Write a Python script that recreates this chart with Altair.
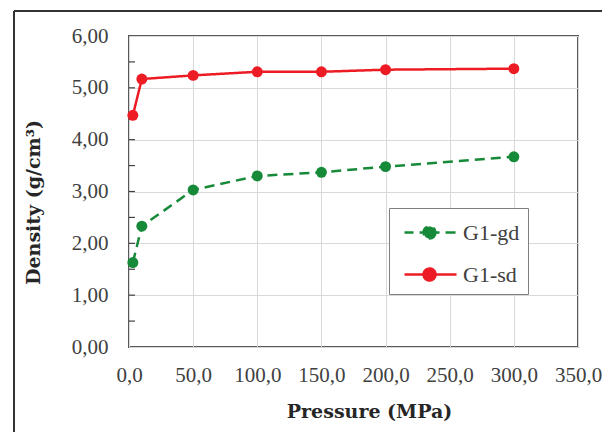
import altair as alt
import pandas as pd

# ---- data ----
pressure = [3, 10, 50, 100, 150, 200, 300]
gd_density = [1.63, 2.33, 3.03, 3.30, 3.37, 3.48, 3.67]
sd_density = [4.47, 5.17, 5.24, 5.31, 5.31, 5.35, 5.37]

series_names = ["G1-gd", "G1-sd"]
series_colors = ["#178a3a", "#ed1c24"]
series_dash = [[10, 6], [1, 0]]

x_ticks = [0, 50, 100, 150, 200, 250, 300, 350]
y_ticks = [0, 1, 2, 3, 4, 5, 6]
y_minor = [0.5, 1, 1.5, 2, 2.5, 3, 3.5, 4, 4.5, 5, 5.5]

rows = []
for p, d in zip(pressure, gd_density):
    rows.append({"p": p, "d": d, "series": "G1-gd"})
for p, d in zip(pressure, sd_density):
    rows.append({"p": p, "d": d, "series": "G1-sd"})
df = pd.DataFrame(rows)
minor_df = pd.DataFrame({"v": y_minor})

FONT = "Liberation Serif"
TFONT = "DejaVu Serif"
W, H = 449, 311

x_enc = alt.X(
    "p:Q",
    scale=alt.Scale(domain=[0, 350], nice=False, zero=False),
    axis=alt.Axis(
        values=x_ticks, grid=True, ticks=False, tickSize=0, domain=False,
        labelExpr="replace(format(datum.value, '.1f'), '.', ',')",
        labelFont=FONT, labelFontSize=21, labelColor="#404040",
        labelPadding=28, labelBaseline="middle", labelFlush=False,
        title="Pressure (MPa)", titleFont=TFONT, titleFontSize=19,
        titleFontWeight="bold", titleColor="#262626",
        titleX=240, titleY=64, titleBaseline="middle", titleAlign="center",
    ),
)
y_enc = alt.Y(
    "d:Q",
    scale=alt.Scale(domain=[0, 6], nice=False, zero=False),
    axis=alt.Axis(
        values=y_ticks, grid=True, ticks=False, tickSize=0, domain=False,
        labelExpr="replace(format(datum.value, '.2f'), '.', ',')",
        labelFont=FONT, labelFontSize=21, labelColor="#404040",
        labelPadding=21, labelFlush=False,
        title="Density (g/cm³)", titleFont=TFONT, titleFontSize=19,
        titleFontWeight="bold", titleColor="#262626",
        titleX=-96, titleY=166, titleAngle=-90, titleBaseline="middle",
        titleAlign="center",
    ),
)

color_scale = alt.Scale(domain=series_names, range=series_colors)
dash_scale = alt.Scale(domain=series_names, range=series_dash)

legend_symbol = (
    "M1.07,0L-0.6,0M1.07,0L2.87,0"
    "M1.47,0A0.4,0.4 0 1,1 0.67,0A0.4,0.4 0 1,1 1.47,0Z"
)
leg = alt.Legend(
    title=None, orient="none", legendX=260, legendY=172,
    padding=8, strokeColor="#7f7f7f", fillColor="white",
    symbolType=legend_symbol, symbolSize=900, symbolStrokeWidth=2.5,
    labelOffset=33, rowPadding=14, labelFont=FONT, labelFontSize=22,
    labelColor="#404040",
)

lines = alt.Chart(df).mark_line(strokeWidth=2.5).encode(
    x=x_enc, y=y_enc,
    color=alt.Color("series:N", scale=color_scale, legend=leg),
    strokeDash=alt.StrokeDash("series:N", scale=dash_scale, legend=leg),
)

points = alt.Chart(df).mark_point(filled=True, size=120, opacity=1).encode(
    x="p:Q", y="d:Q",
    color=alt.Color("series:N", scale=color_scale, legend=leg),
)

minor = alt.Chart(minor_df).mark_rule(color="#404040", strokeWidth=1.2).encode(
    y=alt.Y("v:Q"), x=alt.value(0), x2=alt.value(6),
)

frame_top = alt.Chart(minor_df).mark_rule(color="#333333", strokeWidth=1.8).encode(
    x=alt.value(-115), x2=alt.value(480), y=alt.value(-25),
)
frame_left = alt.Chart(minor_df).mark_rule(color="#333333", strokeWidth=1.8).encode(
    x=alt.value(-115), y=alt.value(-25), y2=alt.value(400),
)

chart = alt.layer(frame_top, frame_left, lines, minor, points).properties(
    width=W, height=H,
    padding={"left": 129, "top": 36, "right": 24, "bottom": 85},
    autosize=alt.AutoSizeParams(type="none"),
    background="white",
).configure_view(
    stroke="#595959", strokeWidth=2,
).configure_axis(
    gridColor="#d9d9d9", gridWidth=1,
)

chart.save("out.html", embed_options={"renderer": "svg", "actions": False})
